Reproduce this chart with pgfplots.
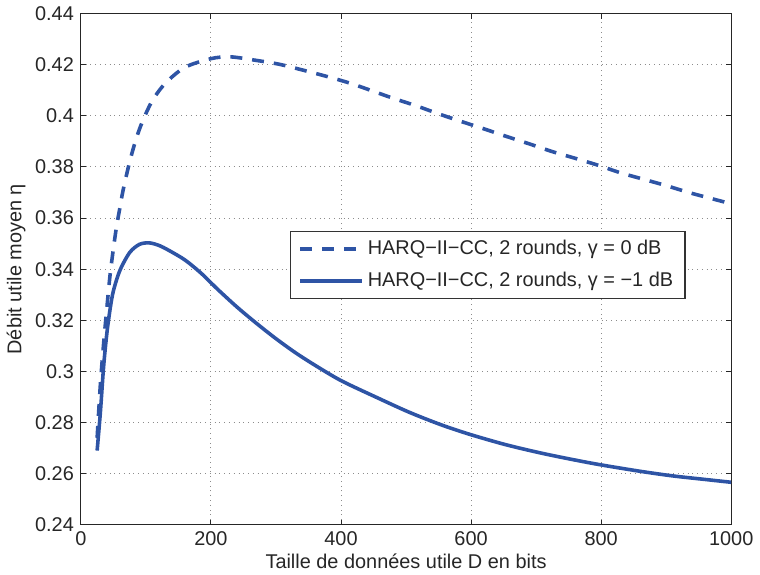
\documentclass[border=0pt]{standalone}
\usepackage{pgfplots}
\pgfplotsset{compat=1.18}
\usepackage{fontspec}
\setmainfont{Liberation Sans}
\definecolor{mblue}{RGB}{46,84,165}
\definecolor{txt}{RGB}{38,38,38}
\begin{document}
\begin{tikzpicture}
\begin{axis}[
  scale only axis,
  width=326.75pt, height=256.75pt,
  xmin=0, xmax=1000, ymin=0.24, ymax=0.44,
  xtick={0,200,...,1000},
  ytick={0.24,0.26,...,0.441},
  xticklabel style={/pgf/number format/1000 sep={}},
  yticklabel style={/pgf/number format/fixed, /pgf/number format/precision=2},
  /pgf/number format/assume math mode=true,
  scaled y ticks=false,
  tick align=inside,
  tick pos=both,
  major tick length=2.5pt,
  tick style={black!85, line width=0.5pt},
  axis line style={black!85, line width=0.6pt},
  grid=major,
  major grid style={black!45, dotted, line width=0.5pt},
  font=\fontsize{10}{12}\selectfont,
  ticklabel style={font=\fontsize{10}{12}\selectfont, text=txt},
  label style={font=\fontsize{10}{12}\selectfont, text=txt},
  xlabel={Taille de données utile D en bits},
  ylabel={Débit utile moyen η},
  xlabel style={yshift=3pt},
  ylabel style={yshift=-2pt},
  legend style={at={(0.3215,0.5755)}, anchor=north west, draw=black!80, fill=white,
    font=\fontsize{10}{12}\selectfont, text=txt, inner xsep=4pt, inner ysep=2.5pt,
    row sep=3.5pt, line width=0.6pt},
  legend cell align=left,
  legend image code/.code={\draw[#1] (0pt,0pt) -- (31pt,0pt);},
]
\addplot[mblue, line width=1.8pt, dash pattern=on 6pt off 5pt, smooth, tension=0.5] coordinates {
(25,0.274) (30,0.295) (35,0.311) (40,0.325) (45,0.338) (50,0.348) (55,0.357)
(60,0.364) (65,0.371) (75,0.382) (85,0.391) (95,0.398) (110,0.406) (130,0.4128)
(160,0.419) (200,0.4224) (230,0.4231) (270,0.4217) (305,0.4202) (340,0.4180)
(380,0.4153) (415,0.4127) (450,0.4096) (480,0.4069) (515,0.4040) (550,0.4008)
(585,0.3978) (620,0.3949) (655,0.3919) (690,0.3890) (725,0.3860) (760,0.3834)
(795,0.3807) (830,0.3777) (865,0.3752) (900,0.3727) (935,0.3700) (970,0.3676)
(1000,0.3656)
};
\addlegendentry{HARQ−II−CC, 2 rounds, γ = 0 dB}
\addplot[mblue, line width=1.8pt, smooth, tension=0.5] coordinates {
(25,0.269) (30,0.284) (35,0.302) (40,0.315) (45,0.3245) (50,0.3315) (60,0.3395)
(75,0.3465) (90,0.3497) (105,0.3503) (120,0.3493) (135,0.3474) (160,0.3436)
(185,0.3384) (210,0.3322) (240,0.3252) (270,0.3188) (300,0.3128) (330,0.3073)
(360,0.3024) (400,0.2964) (454,0.2899) (505,0.2840) (555,0.2790)
(600,0.2752) (655,0.2712) (710,0.2679) (760,0.2653) (800,0.2634) (860,0.2609)
(910,0.2591) (960,0.2577) (1000,0.2566)
};
\addlegendentry{HARQ−II−CC, 2 rounds, γ = −1 dB}
\end{axis}
\end{tikzpicture}
\end{document}
